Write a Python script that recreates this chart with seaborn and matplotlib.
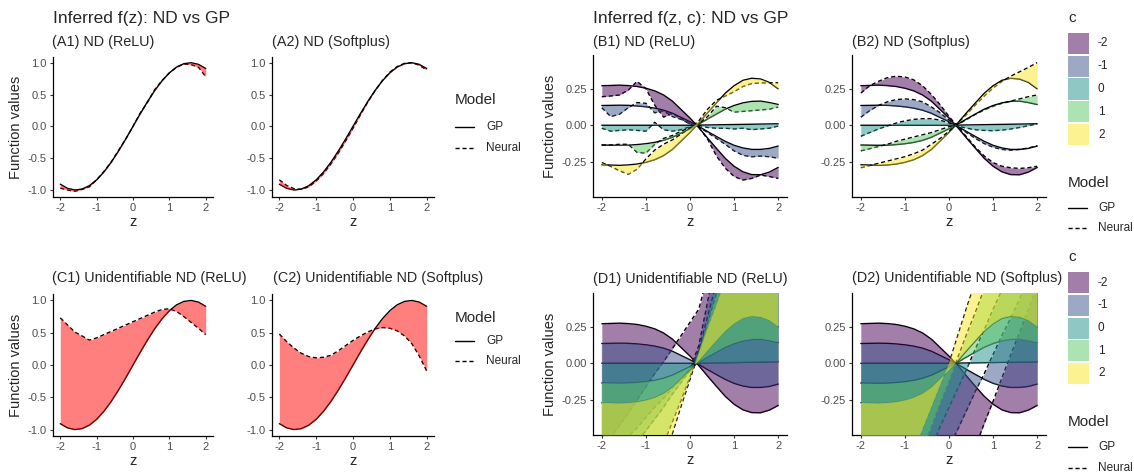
import numpy as np
import pandas as pd
import matplotlib
matplotlib.use("Agg")
import matplotlib.pyplot as plt
import seaborn as sns
from matplotlib.lines import Line2D
from matplotlib.patches import Rectangle

# ---------------- data ----------------
z = [-2.0, -1.8, -1.6, -1.4, -1.2, -1.0, -0.8, -0.6, -0.4, -0.2, 0.0,
     0.2, 0.4, 0.6, 0.8, 1.0, 1.2, 1.4, 1.6, 1.8, 2.0]

# f(z) panels
gp_fz = [-0.909, -0.974, -1.000, -0.985, -0.932, -0.841, -0.717, -0.565, -0.389, -0.199, 0.0,
         0.199, 0.389, 0.565, 0.717, 0.841, 0.932, 0.985, 1.000, 0.974, 0.909]
nn_A1 = [-0.97, -1.0, -1.02, -0.99, -0.95, -0.84, -0.71, -0.56, -0.38, -0.20, 0.0,
         0.21, 0.38, 0.58, 0.72, 0.84, 0.93, 0.98, 0.97, 0.93, 0.78]
nn_A2 = [-0.84, -0.93, -0.98, -0.99, -0.95, -0.86, -0.74, -0.59, -0.42, -0.23, -0.03,
         0.18, 0.38, 0.56, 0.72, 0.85, 0.94, 0.99, 1.0, 0.96, 0.886]
nn_C1 = [0.73, 0.62, 0.51, 0.45, 0.385, 0.42, 0.47, 0.52, 0.57, 0.62, 0.67,
         0.72, 0.77, 0.82, 0.86, 0.87, 0.83, 0.75, 0.66, 0.57, 0.47]
nn_C2 = [0.48, 0.36, 0.26, 0.18, 0.13, 0.11, 0.12, 0.15, 0.22, 0.30, 0.38,
         0.45, 0.51, 0.56, 0.58, 0.57, 0.53, 0.45, 0.33, 0.14, -0.09]

# f(z, c) panels
c_levels = ["-2", "-1", "0", "1", "2"]
c_colors = ["#440154", "#3B528B", "#21908C", "#5DC863", "#FDE725"]

gp_cm2 = [0.270, 0.272, 0.274, 0.271, 0.265, 0.253, 0.235, 0.207, 0.165, 0.107, 0.049,
          -0.016, -0.088, -0.158, -0.226, -0.280, -0.318, -0.337, -0.338, -0.320, -0.288]
gp_cm1 = [0.135, 0.136, 0.137, 0.136, 0.132, 0.126, 0.117, 0.103, 0.082, 0.053, 0.024,
          -0.008, -0.043, -0.077, -0.110, -0.137, -0.155, -0.165, -0.165, -0.158, -0.142]
gp_c0 = [0.0, 0.0, 0.0, 0.0, 0.0, 0.0, 0.0, 0.0, 0.0, 0.0, 0.0,
         0.001, 0.002, 0.003, 0.004, 0.005, 0.006, 0.007, 0.008, 0.009, 0.010]
gp_c1 = [-0.135, -0.136, -0.137, -0.136, -0.132, -0.126, -0.117, -0.103, -0.082, -0.053, -0.024,
         0.008, 0.043, 0.077, 0.110, 0.135, 0.153, 0.163, 0.165, 0.155, 0.142]
gp_c2 = [-0.270, -0.272, -0.274, -0.271, -0.265, -0.253, -0.235, -0.207, -0.165, -0.107, -0.049,
         0.016, 0.086, 0.153, 0.219, 0.270, 0.307, 0.321, 0.316, 0.293, 0.249]

b1_cm2 = [0.195, 0.20, 0.207, 0.24, 0.30, 0.25, 0.137, 0.056, 0.08, 0.044, 0.01,
          -0.014, -0.095, -0.21, -0.293, -0.35, -0.374, -0.363, -0.34, -0.35, -0.363]
b1_cm1 = [0.12, 0.06, 0.075, 0.12, 0.155, 0.15, 0.085, 0.10, 0.06, 0.04, 0.01,
          -0.01, -0.05, -0.09, -0.13, -0.175, -0.205, -0.215, -0.21, -0.215, -0.225]
b1_c0 = [-0.02, -0.04, -0.035, -0.03, -0.035, -0.04, 0.02, -0.03, -0.04, -0.03, -0.01,
         0.0, -0.015, -0.02, -0.02, -0.025, -0.02, -0.03, -0.025, -0.02, -0.005]
b1_c1 = [-0.135, -0.135, -0.13, -0.13, -0.185, -0.19, -0.13, -0.09, -0.07, -0.04, -0.015,
         0.01, 0.06, 0.13, 0.12, 0.09, 0.095, 0.10, 0.105, 0.11, 0.125]
b1_c2 = [-0.255, -0.28, -0.31, -0.335, -0.30, -0.23, -0.17, -0.13, -0.10, -0.06, -0.02,
         0.03, 0.11, 0.17, 0.20, 0.23, 0.265, 0.285, 0.29, 0.29, 0.29]

b2_cm2 = [0.22, 0.27, 0.30, 0.325, 0.335, 0.33, 0.31, 0.27, 0.21, 0.14, 0.06,
          -0.01, -0.08, -0.15, -0.21, -0.255, -0.28, -0.29, -0.295, -0.29, -0.28]
b2_cm1 = [0.055, 0.10, 0.135, 0.16, 0.175, 0.18, 0.175, 0.16, 0.125, 0.085, 0.035,
          -0.01, -0.05, -0.09, -0.125, -0.15, -0.165, -0.17, -0.165, -0.155, -0.14]
b2_c0 = [-0.075, -0.05, -0.025, -0.005, 0.015, 0.03, 0.04, 0.045, 0.045, 0.035, 0.015,
         -0.005, -0.02, -0.03, -0.035, -0.037, -0.033, -0.025, -0.015, -0.003, 0.01]
b2_c1 = [-0.175, -0.16, -0.145, -0.13, -0.11, -0.095, -0.08, -0.065, -0.05, -0.03, -0.01,
         0.005, 0.04, 0.075, 0.105, 0.13, 0.15, 0.165, 0.18, 0.195, 0.207]
b2_c2 = [-0.29, -0.275, -0.26, -0.245, -0.23, -0.215, -0.195, -0.17, -0.13, -0.09, -0.04,
         0.015, 0.075, 0.14, 0.20, 0.255, 0.30, 0.335, 0.365, 0.395, 0.428]

d1_cm2 = [-0.60, -0.51, -0.425, -0.34, -0.25, -0.16, -0.07, 0.01, 0.10, 0.19, 0.28,
          0.37, 0.60, 0.85, 1.10, 1.35, 1.60, 1.85, 2.10, 2.35, 2.60]
d1_cm1 = [-0.70, -0.63, -0.57, -0.50, -0.44, -0.37, -0.30, -0.24, -0.17, -0.11, -0.04,
          0.12, 0.42, 0.72, 1.02, 1.32, 1.62, 1.92, 2.22, 2.52, 2.82]
d1_c0 = [-0.87, -0.79, -0.71, -0.62, -0.54, -0.46, -0.38, -0.30, -0.21, -0.13, -0.05,
         0.09, 0.32, 0.55, 0.78, 1.00, 1.23, 1.46, 1.69, 1.92, 2.14]
d1_c1 = [-1.63, -1.48, -1.32, -1.17, -1.02, -0.86, -0.71, -0.55, -0.40, -0.25, -0.09,
         0.08, 0.27, 0.47, 0.67, 0.86, 1.06, 1.25, 1.45, 1.65, 1.84]
d1_c2 = [-1.95, -1.77, -1.58, -1.40, -1.21, -1.03, -0.85, -0.66, -0.48, -0.29, -0.11,
         0.07, 0.24, 0.40, 0.57, 0.74, 0.91, 1.08, 1.24, 1.41, 1.58]

d2_cm2 = [-2.59, -2.44, -2.28, -2.13, -1.97, -1.81, -1.66, -1.50, -1.35, -1.19, -1.04,
          -0.88, -0.72, -0.57, -0.41, -0.26, -0.10, 0.06, 0.21, 0.37, 0.52]
d2_cm1 = [-1.84, -1.71, -1.58, -1.46, -1.33, -1.20, -1.08, -0.95, -0.82, -0.70, -0.57,
          -0.45, -0.32, -0.19, -0.07, 0.06, 0.19, 0.31, 0.44, 0.57, 0.69]
d2_c0 = [-1.64, -1.50, -1.37, -1.24, -1.10, -0.97, -0.83, -0.70, -0.57, -0.43, -0.30,
         -0.17, -0.04, 0.10, 0.23, 0.37, 0.50, 0.63, 0.77, 0.90, 1.03]
d2_c1 = [-1.69, -1.53, -1.37, -1.22, -1.06, -0.90, -0.75, -0.59, -0.43, -0.27, -0.12,
         0.04, 0.20, 0.35, 0.51, 0.67, 0.82, 0.98, 1.14, 1.30, 1.45]
d2_c2 = [-1.50, -1.35, -1.20, -1.05, -0.90, -0.75, -0.60, -0.45, -0.30, -0.15, 0.0,
         0.19, 0.38, 0.56, 0.75, 0.94, 1.13, 1.32, 1.50, 1.69, 1.88]

gp_c_all = [gp_cm2, gp_cm1, gp_c0, gp_c1, gp_c2]
panel_nn = {
    "B1": [b1_cm2, b1_cm1, b1_c0, b1_c1, b1_c2],
    "B2": [b2_cm2, b2_cm1, b2_c0, b2_c1, b2_c2],
    "D1": [d1_cm2, d1_cm1, d1_c0, d1_c1, d1_c2],
    "D2": [d2_cm2, d2_cm1, d2_c0, d2_c1, d2_c2],
}

# ---------------- style ----------------
sns.set_style("ticks")
plt.rcParams["font.family"] = ["Liberation Sans", "DejaVu Sans"]
plt.rcParams["axes.unicode_minus"] = False

W, H = 1134, 473
fig = plt.figure(figsize=(W / 100, H / 100), dpi=100)
DASH = (0, (3, 2))
TICK_FS = 8
LEG_FS = 8.5
LEG_TITLE_FS = 11


def px_axes(x0, y0, x1, y1):
    return fig.add_axes([x0 / W, 1 - y1 / H, (x1 - x0) / W, (y1 - y0) / H])


def style(ax, ylim, yticks, ylabels, ylabel):
    ax.set_xlim(-2.2, 2.2)
    ax.set_ylim(*ylim)
    ax.set_xticks([-2, -1, 0, 1, 2])
    ax.set_xticklabels(["-2", "-1", "0", "1", "2"])
    ax.set_yticks(yticks)
    ax.set_yticklabels(ylabels)
    for s in ["top", "right"]:
        ax.spines[s].set_visible(False)
    for s in ["left", "bottom"]:
        ax.spines[s].set_linewidth(0.9)
        ax.spines[s].set_color("black")
    ax.tick_params(axis="both", length=2.5, width=0.8, color="#333333",
                   labelcolor="#4D4D4D", labelsize=TICK_FS, pad=2)
    ax.set_xlabel("z", fontsize=10.5, labelpad=1)
    ax.set_ylabel(ylabel, fontsize=10.5, labelpad=3)
    ax.set_facecolor("white")


def draw_fz(ax, nn):
    sns.lineplot(x=z, y=gp_fz, ax=ax, color="black", linewidth=1.0, errorbar=None, zorder=2)
    sns.lineplot(x=z, y=nn, ax=ax, color="black", linewidth=1.0, errorbar=None,
                 linestyle=DASH, zorder=2)
    ax.fill_between(z, gp_fz, nn, color="red", alpha=0.5, linewidth=0, zorder=3)


def draw_fzc(ax, nns):
    for gp, nn in zip(gp_c_all, nns):
        sns.lineplot(x=z, y=gp, ax=ax, color="black", linewidth=1.0, errorbar=None, zorder=2)
        sns.lineplot(x=z, y=nn, ax=ax, color="black", linewidth=1.0, errorbar=None,
                     linestyle=DASH, zorder=2)
    for gp, nn, col in zip(gp_c_all, nns, c_colors):
        ax.fill_between(z, gp, nn, color=col, alpha=0.5, linewidth=0, zorder=3)


fz_ticks = [-1.0, -0.5, 0.0, 0.5, 1.0]
fz_labels = ["-1.0", "-0.5", "0.0", "0.5", "1.0"]
fzc_ticks = [-0.25, 0.0, 0.25]
fzc_labels = ["-0.25", "0.00", "0.25"]

axA1 = px_axes(53, 57, 213, 197)
draw_fz(axA1, nn_A1)
style(axA1, (-1.11, 1.09), fz_ticks, fz_labels, "Function values")
axA2 = px_axes(272, 57, 434, 197)
draw_fz(axA2, nn_A2)
style(axA2, (-1.11, 1.09), fz_ticks, fz_labels, "")
axC1 = px_axes(53, 294, 213, 436)
draw_fz(axC1, nn_C1)
style(axC1, (-1.1, 1.1), fz_ticks, fz_labels, "Function values")
axC2 = px_axes(272, 294, 434, 436)
draw_fz(axC2, nn_C2)
style(axC2, (-1.1, 1.1), fz_ticks, fz_labels, "")

axB1 = px_axes(593, 55, 787, 197)
draw_fzc(axB1, panel_nn["B1"])
style(axB1, (-0.49, 0.48), fzc_ticks, fzc_labels, "Function values")
axB2 = px_axes(852, 55, 1046, 197)
draw_fzc(axB2, panel_nn["B2"])
style(axB2, (-0.49, 0.48), fzc_ticks, fzc_labels, "")
axD1 = px_axes(593, 293, 787, 435)
draw_fzc(axD1, panel_nn["D1"])
style(axD1, (-0.49, 0.48), fzc_ticks, fzc_labels, "Function values")
axD2 = px_axes(852, 293, 1046, 435)
draw_fzc(axD2, panel_nn["D2"])
style(axD2, (-0.49, 0.48), fzc_ticks, fzc_labels, "")


def ftext(x, y, s, size, **kw):
    fig.text(x / W, 1 - y / H, s, fontsize=size, va="center", ha="left", **kw)


# titles
ftext(53, 18, "Inferred f(z): ND vs GP", 12.5)
ftext(593, 18, "Inferred f(z, c): ND vs GP", 12.5)
ftext(52, 42, "(A1) ND (ReLU)", 10.4)
ftext(272, 42, "(A2) ND (Softplus)", 10.4)
ftext(593, 42, "(B1) ND (ReLU)", 10.4)
ftext(852, 42, "(B2) ND (Softplus)", 10.4)
ftext(52, 278, "(C1) Unidentifiable ND (ReLU)", 10.4)
ftext(273, 278, "(C2) Unidentifiable ND (Softplus)", 10.4)
ftext(593, 279, "(D1) Unidentifiable ND (ReLU)", 10.4)
ftext(852, 278, "(D2) Unidentifiable ND (Softplus)", 10.4)


def model_legend(x, yt, yg, yn, lx):
    ftext(x, yt, "Model", LEG_TITLE_FS)
    fig.add_artist(Line2D([x / W, (x + 19) / W], [1 - yg / H] * 2, color="black", lw=1.0))
    fig.add_artist(Line2D([x / W, (x + 19) / W], [1 - yn / H] * 2, color="black", lw=1.0,
                          linestyle=DASH))
    ftext(lx, yg, "GP", LEG_FS)
    ftext(lx, yn, "Neural", LEG_FS)


def c_legend(yt, yk):
    ftext(1068, yt, "c", LEG_TITLE_FS)
    for i, (lab, col) in enumerate(zip(c_levels, c_colors)):
        top = yk + i * 22.75
        fig.add_artist(Rectangle((1068 / W, 1 - (top + 21) / H), 21 / W, 21 / H,
                                 transform=fig.transFigure, facecolor=col, alpha=0.5,
                                 edgecolor="none"))
        ftext(1098, top + 10.5, lab, LEG_FS)


model_legend(455, 100, 127, 148, 486)
model_legend(455, 318, 341, 361, 486)
c_legend(18, 33)
model_legend(1068, 183, 208, 228, 1098)
c_legend(257, 272)
model_legend(1068, 422, 447, 468, 1098)

fig.savefig("out.png", dpi=100, facecolor="white")
